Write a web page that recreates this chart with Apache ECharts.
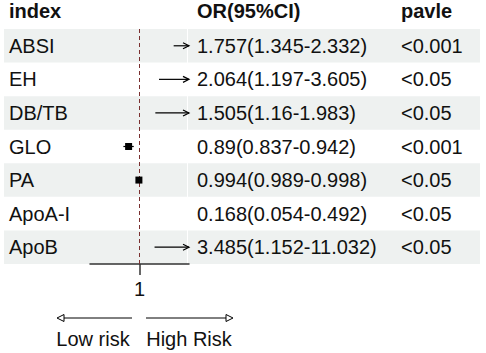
<!DOCTYPE html>
<html>
<head>
<meta charset="utf-8">
<script src="https://cdn.jsdelivr.net/npm/echarts@6/dist/echarts.min.js"></script>
<style>
  html, body { margin: 0; padding: 0; background: #fff; }
  #chart { width: 486px; height: 353px; }
</style>
</head>
<body>
<div id="chart"></div>
<script>
// data
const indexNames = ['ABSI', 'EH', 'DB/TB', 'GLO', 'PA', 'ApoA-I', 'ApoB'];
const orValues = [1.757, 2.064, 1.505, 0.89, 0.994, 0.168, 3.485];
const ciLower = [1.345, 1.197, 1.16, 0.837, 0.989, 0.054, 1.152];
const ciUpper = [2.332, 3.605, 1.983, 0.942, 0.998, 0.492, 11.032];
const pValues = ['<0.001', '<0.05', '<0.05', '<0.001', '<0.05', '<0.05', '<0.05'];
const xRange = [0.5, 1.5];
const xTicks = [1];
const refValue = 1;

const orLabels = orValues.map((v, i) => v + '(' + ciLower[i] + '-' + ciUpper[i] + ')');

const font = 'Liberation Sans, Arial, sans-serif';
const fs = 20;
const textColor = '#111';
const rowFill = '#eef1f0';

const chart = echarts.init(document.getElementById('chart'), null, { renderer: 'svg' });

function bgItem(params, api) {
  const i = api.value(1);
  if (i % 2 === 1) return;
  const y = api.coord([1, i])[1];
  const h = api.size([0, 1])[1];
  return {
    type: 'group',
    children: [
      { type: 'rect', shape: { x: 4, y: y - h / 2, width: 183, height: h }, style: { fill: rowFill } },
      { type: 'rect', shape: { x: 188, y: y - h / 2, width: 292, height: h }, style: { fill: rowFill } }
    ]
  };
}

function refItem(params, api) {
  const x = api.coord([api.value(0), 0])[0];
  const cs = params.coordSys;
  return {
    type: 'line',
    shape: { x1: x, y1: cs.y, x2: x, y2: cs.y + cs.height },
    style: { stroke: '#7a3030', lineWidth: 1, lineDash: [4, 3] }
  };
}

function ciItem(params, api) {
  const est = api.value(0), lo = api.value(1), hi = api.value(2), i = api.value(3);
  if (hi < xRange[0] || lo > xRange[1]) return;
  const y = api.coord([1, i])[1];
  const x1 = api.coord([Math.max(lo, xRange[0]), i])[0];
  const x2 = api.coord([Math.min(hi, xRange[1]), i])[0];
  const stroke = { stroke: '#000', lineWidth: 1.2, fill: null };
  const children = [{ type: 'line', shape: { x1: x1, y1: y, x2: x2, y2: y }, style: stroke }];
  if (hi > xRange[1]) {
    children.push({ type: 'polyline', shape: { points: [[x2 - 6, y - 3], [x2, y], [x2 - 6, y + 3]] }, style: stroke });
  }
  if (lo < xRange[0]) {
    children.push({ type: 'polyline', shape: { points: [[x1 + 6, y - 3], [x1, y], [x1 + 6, y + 3]] }, style: stroke });
  }
  if (est >= xRange[0] && est <= xRange[1]) {
    const p = api.coord([est, i]);
    children.push({ type: 'rect', shape: { x: p[0] - 3.5, y: p[1] - 3.5, width: 7, height: 7 }, style: { fill: '#000' } });
  }
  return { type: 'group', children: children };
}

const headerStyle = { fontSize: fs, fontWeight: 'bold', fontFamily: font, fill: textColor };
const noteStyle = { fontSize: fs, fontFamily: font, fill: textColor, verticalAlign: 'middle', align: 'center' };
const plainAxis = { axisLine: { show: false }, axisTick: { show: false }, splitLine: { show: false } };

chart.setOption({
  animation: false,
  backgroundColor: '#fff',
  textStyle: { fontFamily: font },
  grid: { left: 90, width: 99, top: 29, height: 235 },
  xAxis: {
    type: 'value',
    min: xRange[0],
    max: xRange[1],
    axisLine: { show: true, onZero: false, lineStyle: { color: '#333', width: 1.5 } },
    axisTick: { show: true, customValues: xTicks, length: 11, lineStyle: { color: '#333', width: 1.5 } },
    axisLabel: { customValues: xTicks, fontSize: fs, color: textColor, margin: 15 },
    splitLine: { show: false }
  },
  yAxis: [
    Object.assign({
      type: 'category', data: indexNames, inverse: true,
      axisLabel: { align: 'left', margin: 81, fontSize: fs, color: textColor }
    }, plainAxis),
    Object.assign({
      type: 'category', data: orLabels, inverse: true, position: 'right',
      axisLabel: { align: 'left', margin: 8, fontSize: fs, color: textColor }
    }, plainAxis),
    Object.assign({
      type: 'category', data: pValues, inverse: true, position: 'right', offset: 204,
      axisLabel: { align: 'left', margin: 8, fontSize: fs, color: textColor }
    }, plainAxis)
  ],
  series: [
    {
      type: 'custom', z: -1, silent: true,
      renderItem: bgItem,
      data: indexNames.map((n, i) => [1, i])
    },
    {
      type: 'custom', z: 1, silent: true,
      renderItem: refItem,
      data: [[refValue, 0]]
    },
    {
      type: 'custom', z: 3, silent: true,
      renderItem: ciItem,
      encode: { x: [0, 1, 2], y: 3 },
      data: orValues.map((v, i) => [v, ciLower[i], ciUpper[i], i])
    }
  ],
  graphic: [
    { type: 'text', left: 9, top: 1, style: Object.assign({ text: 'index' }, headerStyle) },
    { type: 'text', left: 197, top: 1, style: Object.assign({ text: 'OR(95%CI)' }, headerStyle) },
    { type: 'text', left: 401, top: 1, style: Object.assign({ text: 'pavle' }, headerStyle) },
    { type: 'line', shape: { x1: 132, y1: 318, x2: 60, y2: 318 }, style: { stroke: '#000', lineWidth: 1 } },
    { type: 'polygon', shape: { points: [[57, 318], [64, 314.5], [64, 321.5]] }, style: { fill: '#fff', stroke: '#000', lineWidth: 1 } },
    { type: 'line', shape: { x1: 146, y1: 318, x2: 230, y2: 318 }, style: { stroke: '#000', lineWidth: 1 } },
    { type: 'polygon', shape: { points: [[233, 318], [226, 314.5], [226, 321.5]] }, style: { fill: '#fff', stroke: '#000', lineWidth: 1 } },
    { type: 'text', x: 93, y: 339, style: Object.assign({ text: 'Low risk' }, noteStyle) },
    { type: 'text', x: 189, y: 339, style: Object.assign({ text: 'High Risk' }, noteStyle) }
  ]
});
</script>
</body>
</html>
